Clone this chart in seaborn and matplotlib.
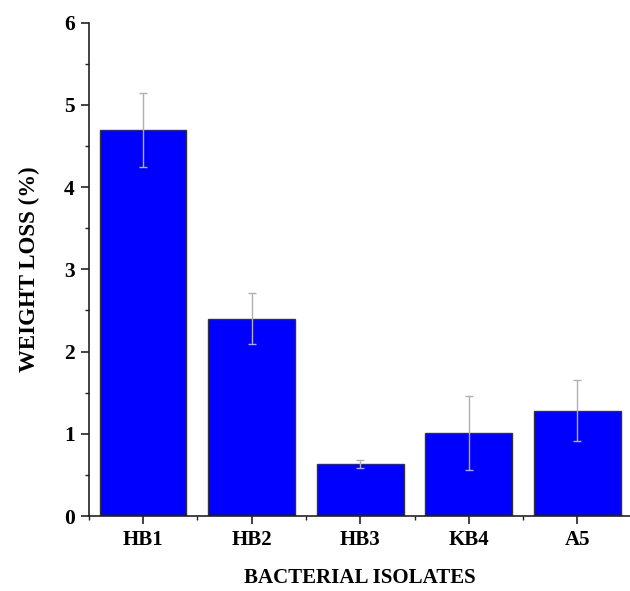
import matplotlib
matplotlib.use("Agg")
import matplotlib.pyplot as plt
import seaborn as sns
import numpy as np
import pandas as pd
from matplotlib.ticker import MultipleLocator

categories = ["HB1", "HB2", "HB3", "KB4", "A5"]
weight_loss = [4.70, 2.40, 0.63, 1.01, 1.28]
errors = [0.45, 0.31, 0.05, 0.45, 0.37]
y_ticks = [0, 1, 2, 3, 4, 5, 6]

sns.set_theme(style="ticks")
plt.rcParams["font.family"] = ["Liberation Serif", "DejaVu Serif"]
plt.rcParams["font.weight"] = "bold"

fig = plt.figure(figsize=(6.3, 5.91), dpi=100)
ax = fig.add_axes([0.1408, 0.1269, 0.862, 0.8347])

df = pd.DataFrame({"isolate": categories, "loss": weight_loss})
sns.barplot(data=df, x="isolate", y="loss", color="#0000FF", saturation=1,
            width=0.8, edgecolor="#333333", linewidth=1.0, errorbar=None, ax=ax)
ax.errorbar(np.arange(len(categories)), weight_loss, yerr=errors, fmt="none",
            ecolor="#b0b0b0", elinewidth=1.0, capsize=3, capthick=1.0, zorder=3)

ax.set_xlim(-0.5, 4.5)
ax.set_ylim(0, 6)
ax.set_yticks(y_ticks)
ax.yaxis.set_minor_locator(MultipleLocator(0.5))
ax.set_xticks(range(len(categories)))
ax.set_xticks(np.arange(-0.5, 4.6, 1.0), minor=True)
ax.set_xticklabels(categories)

for s in ["top", "right"]:
    ax.spines[s].set_visible(False)
for s in ["left", "bottom"]:
    ax.spines[s].set_color("#222222")
    ax.spines[s].set_linewidth(1.2)

ax.tick_params(axis="both", which="major", direction="out", length=6, width=1.2,
               colors="#222222", labelsize=15, pad=4)
ax.tick_params(axis="y", which="major", labelsize=15.5)
ax.tick_params(axis="both", which="minor", direction="out", length=3, width=1.0,
               colors="#222222")
for lab in ax.get_xticklabels() + ax.get_yticklabels():
    lab.set_fontweight("bold")
    lab.set_color("black")

ax.set_xlabel("BACTERIAL ISOLATES", fontsize=15, fontweight="bold", labelpad=13, color="black")
ax.set_ylabel("WEIGHT LOSS (%)", fontsize=16.5, fontweight="bold", labelpad=17, color="black")

fig.savefig("out.png", dpi=100)
